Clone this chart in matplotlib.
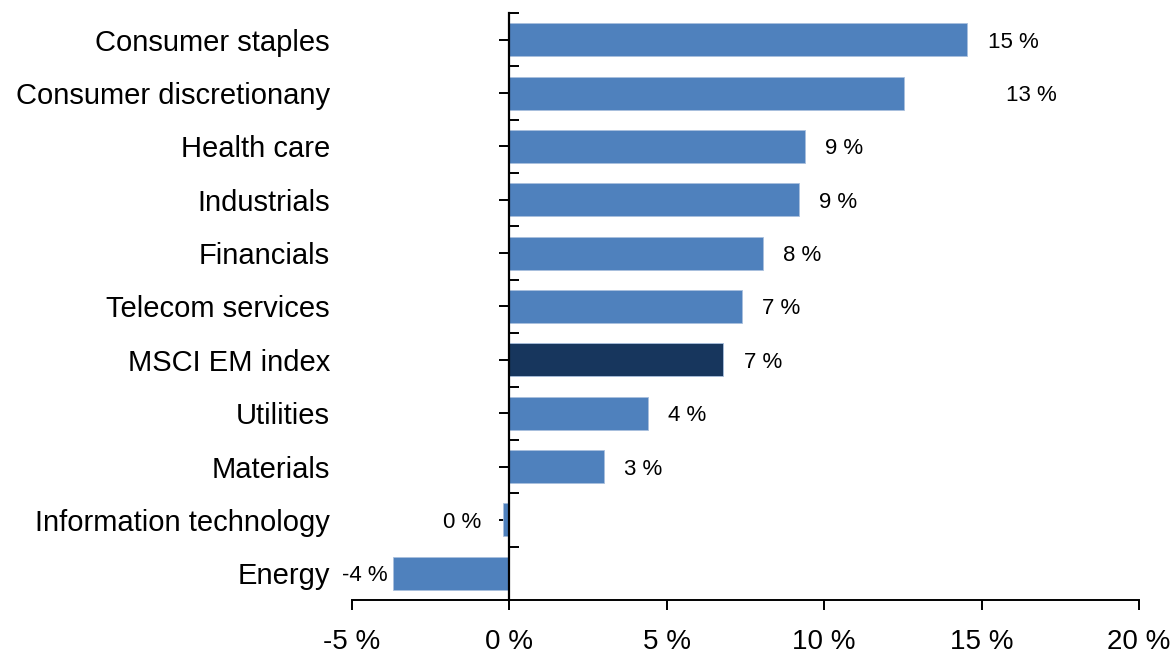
import matplotlib.pyplot as plt
from matplotlib.ticker import FixedLocator

plt.rcParams['font.family'] = ['Liberation Sans', 'DejaVu Sans']

sectors = ['Consumer staples', 'Consumer discretionany', 'Health care', 'Industrials',
           'Financials', 'Telecom services', 'MSCI EM index', 'Utilities', 'Materials',
           'Information technology', 'Energy']
values = [14.55, 12.55, 9.4, 9.2, 8.05, 7.4, 6.8, 4.4, 3.0, -0.2, -3.7]
labels = ['15 %', '13 %', '9 %', '9 %', '8 %', '7 %', '7 %', '4 %', '3 %', '0 %', '-4 %']
xticks = [-5, 0, 5, 10, 15, 20]

blue = '#4F81BD'
dark = '#17365D'
colors = [dark if s == 'MSCI EM index' else blue for s in sectors]

fig = plt.figure(figsize=(11.75, 6.57), dpi=100)
ax = fig.add_axes([352 / 1175, 1 - 600 / 657, 787 / 1175, 587 / 657])

ypos = list(range(len(sectors)))
ax.barh(ypos, values, height=0.62, color=colors, edgecolor='#A9C0DE', linewidth=0.6, zorder=2)
ax.set_xlim(-5, 20)
ax.set_ylim(len(sectors) - 0.5, -0.5)

# value labels
for i, (v, lab) in enumerate(zip(values, labels)):
    if v < -1:
        ax.annotate(lab, (v, i), xytext=(-3.5, 0), textcoords='offset points',
                    ha='right', va='center_baseline', fontsize=16)
    elif v < 0:
        ax.annotate(lab, (0, i), xytext=(-20, 0), textcoords='offset points',
                    ha='right', va='center_baseline', fontsize=16)
    else:
        off = 73 if sectors[i] == 'Consumer discretionany' else 14.5
        ax.annotate(lab, (v, i), xytext=(off, 0), textcoords='offset points',
                    ha='left', va='center_baseline', fontsize=16)

# category names
for i, s in enumerate(sectors):
    ax.text(-0.028, i, s, transform=ax.get_yaxis_transform(), ha='right',
            va='center_baseline', fontsize=21)

for side in ['top', 'right']:
    ax.spines[side].set_visible(False)
ax.spines['left'].set_position(('data', 0))
ax.spines['left'].set_linewidth(1.6)
ax.spines['bottom'].set_linewidth(1.4)

ax.set_xticks(xticks)
ax.set_xticklabels([f'{t} %' for t in xticks], fontsize=20)
ax.tick_params(axis='x', direction='out', length=7, width=1.4, pad=14)

ax.yaxis.set_major_locator(FixedLocator(ypos))
ax.yaxis.set_minor_locator(FixedLocator([y - 0.5 for y in ypos]))
ax.set_yticklabels([])
ax.tick_params(axis='y', which='major', direction='out', length=7, width=1.4)
ax.tick_params(axis='y', which='minor', direction='in', length=7, width=1.4)

fig.savefig('out.png', dpi=100)
